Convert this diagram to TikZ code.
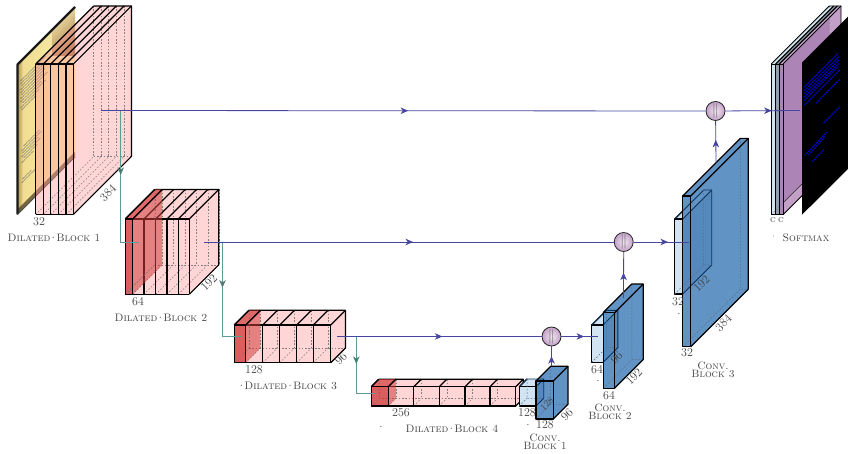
\documentclass[tikz,border=0pt]{standalone}
\usetikzlibrary{arrows.meta,decorations.markings}
\definecolor{pinkf}{RGB}{255,150,150}
\definecolor{redf}{RGB}{210,60,60}
\definecolor{lightb}{RGB}{210,228,242}
\definecolor{darkb}{RGB}{97,147,196}
\definecolor{overb}{RGB}{55,110,170}
\definecolor{navy}{RGB}{10,50,90}
\definecolor{linkb}{RGB}{70,70,160}
\definecolor{linkt}{RGB}{95,155,150}
\definecolor{txt}{RGB}{65,65,65}
\definecolor{purpA}{RGB}{196,160,200}
\definecolor{purpB}{RGB}{172,132,182}
\tikzset{
  boxedge/.style={draw=black,line width=1.2pt,line join=round},
  hid/.style={draw=black!50,line width=.5pt,dash pattern=on 1.6pt off 1.7pt},
  num/.style={text=txt,inner sep=0pt,font=\fontsize{12}{12}\selectfont},
  numr/.style={num,rotate=45},
  captwo/.style={text=txt,inner sep=0pt,align=center,font=\fontsize{10.6}{8.2}\selectfont\scshape},
  capone/.style={captwo,font=\fontsize{10.8}{9}\selectfont\scshape},
  tinyc/.style={num,font=\fontsize{9.5}{9}\selectfont\scshape},
  bluel/.style={draw=linkb,line width=.8pt},
  teall/.style={draw=linkt,line width=.9pt},
  tipb/.style={postaction={decorate,decoration={markings,mark=at position #1 with {\arrow[linkb]{Stealth[length=7.5pt,width=6.5pt,inset=2.2pt]}}}}},
  tipt/.style={postaction={decorate,decoration={markings,mark=at position #1 with {\arrow[linkt!80!black]{Stealth[length=7.5pt,width=6.5pt,inset=2.2pt]}}}}},
  merge/.style={circle,draw=black!85,line width=.8pt,minimum size=19pt,inner sep=0pt,text=black!60,
     inner color=purpA!25,outer color=purpA,font=\fontsize{14}{14}\selectfont},
  inkline/.style={draw=blue!90!black,line width=.7pt},
  scrib/.style={draw=black!60,line width=.4pt,dash pattern=on 1.6pt off .5pt on .9pt off .5pt},
}
\newcommand{\dd}{\kern-1.6pt·\kern-1.6pt}
% pink stack: #1 list of x boundaries, #2 x first, #3 x last, #4 top, #5 height, #6 depth
\newcommand{\stackbox}[6]{%
  \fill[pinkf,fill opacity=.4] (#2,#4) -- (#2+#6,#4-#6) -- (#3+#6,#4-#6) -- (#3+#6,#4+#5-#6) -- (#3,#4+#5) -- (#2,#4+#5) -- cycle;
  \foreach \xx in {#1}{\draw[hid] (\xx+#6,#4-#6) -- (\xx+#6,#4+#5-#6);
     \draw[hid] (\xx,#4+#5) -- (\xx+#6,#4+#5-#6);}
  \draw[hid] (#2+#6,#4+#5-#6) -- (#3+#6,#4+#5-#6);
  \foreach \xx in {#1}{\draw[boxedge] (\xx,#4) -- (\xx,#4+#5); \draw[boxedge] (\xx,#4) -- (\xx+#6,#4-#6);}
  \draw[boxedge] (#2,#4) -- (#3,#4) (#2,#4+#5) -- (#3,#4+#5);
  \draw[boxedge] (#2+#6,#4-#6) -- (#3+#6,#4-#6) -- (#3+#6,#4+#5-#6) -- (#3,#4+#5);
}
% red cube: x, w, top, height, depth
\newcommand{\redcube}[5]{%
  \fill[redf,fill opacity=.55] (#1,#3) rectangle (#1+#2,#3+#4);
  \fill[redf,fill opacity=.5] (#1,#3) rectangle (#1+#2,#3+#4);
  \fill[redf,fill opacity=.7] (#1,#3) -- (#1+#2,#3) -- (#1+#2+#5,#3-#5) -- (#1+#5,#3-#5) -- cycle;
  \fill[redf,fill opacity=.55] (#1+#2,#3) -- (#1+#2+#5,#3-#5) -- (#1+#2+#5,#3+#4-#5) -- (#1+#2,#3+#4) -- cycle;
  \draw[hid] (#1,#3+#4) -- (#1+#5,#3+#4-#5) (#1+#5,#3-#5) -- (#1+#5,#3+#4-#5);
  \draw[boxedge] (#1,#3) rectangle (#1+#2,#3+#4);
  \draw[boxedge] (#1,#3) -- (#1+#5,#3-#5) (#1+#2,#3) -- (#1+#2+#5,#3-#5);
}
% light then dark conv pair. light: x,w,top,h,d  dark: w,top,h,d  (dark x = light x + w)
\newcommand{\convpair}[9]{%
  \fill[lightb] (#1,#3) rectangle (#1+#2,#3+#4);
  \fill[lightb] (#1,#3) -- (#1+#2,#3) -- (#1+#2+#5,#3-#5) -- (#1+#5,#3-#5) -- cycle;
  \draw[boxedge] (#1,#3) rectangle (#1+#2,#3+#4);
  \draw[boxedge] (#1,#3) -- (#1+#5,#3-#5);
  \fill[darkb] (#1+#2,#7) rectangle (#1+#2+#6,#7+#8);
  \fill[darkb] (#1+#2,#7) -- (#1+#2+#6,#7) -- (#1+#2+#6+#9,#7-#9) -- (#1+#2+#9,#7-#9) -- cycle;
  \fill[darkb] (#1+#2+#6,#7) -- (#1+#2+#6+#9,#7-#9) -- (#1+#2+#6+#9,#7+#8-#9) -- (#1+#2+#6,#7+#8) -- cycle;
  \fill[overb,fill opacity=.28] (#1+#2,#3) -- (#1+#2+#5,#3-#5) -- (#1+#2+#5,#3+#4-#5) -- (#1+#2,#3+#4) -- cycle;
  \draw[navy,line width=.9pt] (#1,#3) -- (#1+#5,#3-#5) -- (#1+#2+#5,#3-#5) -- (#1+#2+#5,#3+#4-#5) -- (#1+#2,#3+#4);
  \draw[navy,line width=.9pt] (#1+#2,#3) -- (#1+#2+#5,#3-#5);
  \draw[hid,draw=navy!70] (#1+#5,#3-#5) -- (#1+#5,#3+#4-#5) -- (#1+#2+#5,#3+#4-#5) (#1,#3+#4) -- (#1+#5,#3+#4-#5);
  \draw[hid,draw=navy!70] (#1+#2+#9,#7-#9) -- (#1+#2+#9,#7+#8-#9) -- (#1+#2+#6+#9,#7+#8-#9) (#1+#2,#7+#8) -- (#1+#2+#9,#7+#8-#9);
  \draw[boxedge] (#1+#2,#7) rectangle (#1+#2+#6,#7+#8);
  \draw[boxedge] (#1+#2,#7) -- (#1+#2+#9,#7-#9) -- (#1+#2+#6+#9,#7-#9) -- (#1+#2+#6+#9,#7+#8-#9) -- (#1+#2+#6,#7+#8);
  \draw[boxedge] (#1+#2+#6,#7) -- (#1+#2+#6+#9,#7-#9);
}
\begin{document}
\begin{tikzpicture}[x=1pt,y=-1pt]
\useasboundingbox (0,0) rectangle (848,454);
\clip (0,0) rectangle (848,454);

% ---------- input page
\begin{scope}
  \clip (17.5,64.5) -- (75,7) -- (75,157) -- (17.5,214.5) -- cycle;
  \shade[left color={rgb,255:red,240;green,220;blue,140},right color={rgb,255:red,248;green,236;blue,178}] (17,6) rectangle (76,215);
  \shade[left color={rgb,255:red,248;green,236;blue,178},right color={rgb,255:red,150;green,95;blue,50},shading angle=45,opacity=.8] (52,6) rectangle (76,56);
  \shade[left color={rgb,255:red,120;green,90;blue,40},right color={rgb,255:red,240;green,220;blue,140},opacity=.6] (17,60) rectangle (23,215);
  \foreach \v/\a/\b in {20/3/28,23/3/25,26/4/29,29/3/27,32/3/28,35/4/26,38/3/30,41/3/24,44/5/28,47/3/22,50/4/18,88/6/22,91/4/24,94/5/21,97/4/23,100/6/20,103/4/16,120/5/14,123/4/18}{
    \draw[scrib] (17.5+\a,64-\a+\v) -- (17.5+\b,64-\b+\v);
  }
  \fill[black!80!brown,opacity=.6] (17.5,209.5) -- (75,152) -- (75,157) -- (17.5,215) -- cycle;
\end{scope}
\draw[black!90,line width=2.2pt,line join=round] (17.5,214.5) -- (17.5,64.5) -- (75,7);
\draw[black!70,line width=1pt] (17.5,214.5) -- (75,157);

% ---------- block 1
\stackbox{35.7,43.3,50.7,58.3,66,73.4}{35.7}{73.4}{64}{150.5}{58}
\coordinate (b1out) at (101,110.5);
\coordinate (b1down) at (120.7,110.5);
\node[num] (n32a) at (39,222) {32};
\node[numr] (n384a) at (108,193) {384};
\node[capone] (capa) at (54,238) {Dilated\dd Block 1};

% ---------- block 2
\stackbox{125.3,132.7,144,155.7,167,178.3,189.3}{125.3}{189.3}{219}{75.3}{29.5}
\redcube{125.3}{7.4}{219}{75.3}{29.5}
\coordinate (b2in) at (139,242);
\coordinate (b2out) at (204,242);
\coordinate (b2down) at (222.5,242);
\node[num] (n64a) at (138,301.5) {64};
\node[numr] (n192a) at (209,283) {192};
\node[capone] (capb) at (161,317.5) {Dilated\dd Block 2};

% ---------- block 3
\stackbox{234.3,245.7,262.7,279.7,296.7,313.3,330.7}{234.3}{330.7}{325}{37.7}{14.7}
\redcube{234.3}{11.4}{325}{37.7}{14.7}
\coordinate (b3in) at (242,336.5);
\coordinate (b3out) at (337,336.5);
\coordinate (b3down) at (356.3,336.5);
\node[num] (n128a) at (254,369.5) {128};
\node[numr] (n96a) at (341,359) {96};
\node[capone] (capc) at (287,386) {·\kern-1.6pt Dilated\dd Block 3};

% ---------- block 4
\stackbox{371.3,388.3,413.7,439.3,465,490,515.7}{371.3}{515.7}{386.7}{19.3}{7.5}
\redcube{371.3}{17}{386.7}{19.3}{7.5}
\coordinate (b4in) at (376,393);
\node[num] (n256) at (401,413) {256};
\node[num] (dota) at (381,427) {.};
\node[capone] (capd) at (452,429) {Dilated\dd Block 4};

% ---------- conv blocks
\convpair{519.3}{16.7}{386.7}{19.3}{7.7}{17.3}{381}{38}{14.7}
\coordinate (c1up) at (551.5,366);
\node[num] (n128b) at (527,412.5) {128};
\node[num] (dotb) at (528,425) {.};
\node[num] (n128c) at (545,425) {128};
\node[numr] (n96b) at (567,415) {96};
\node[numr,font=\fontsize{9.5}{9.5}\selectfont] (n128d) at (547,404) {128};
\node[captwo] (cape) at (545,441.5) {Conv.\\Block 1};

\convpair{591.7}{11.4}{325}{37.3}{14.7}{11.4}{312.7}{75.6}{28.7}
\coordinate (c2in) at (598,336.5);
\coordinate (c2up) at (623.5,298);
\node[num] (n64b) at (597,370) {64};
\node[num] (dotc) at (598,381) {.};
\node[num] (n64c) at (609,396) {64};
\node[numr] (n96c) at (616.5,358) {96};
\node[numr] (n192b) at (634,377) {192};
\node[captwo] (capf) at (610,412) {Conv.\\Block 2};

\convpair{674.7}{8}{219}{75}{29}{8}{196}{150.7}{57.6}
\coordinate (c3in) at (689,242);
\coordinate (c3up) at (716,163);
\node[num] (n32b) at (678,302) {32};
\node[num] (dotd) at (679,314) {.};
\node[numr] (n192c) at (701.5,283.5) {192};
\node[num] (n32c) at (687,353) {32};
\node[numr] (n384b) at (723.5,323) {384};
\node[captwo] (capg) at (713,370) {Conv.\\Block 3};

% ---------- softmax stack
\fill[purpA] (783,64) -- (841,6) -- (841,157) -- (783,214.7) -- cycle;
\fill[purpA] (779.3,64) -- (783,64) -- (841,6) -- (837.3,6) -- cycle;
\fill[purpB] (783,64) -- (829.3,17.7) -- (829.3,156.7) -- (783,203) -- cycle;
\fill[lightb] (771.3,64) rectangle (775.7,214.7);
\fill[lightb] (771.3,64) -- (775.7,64) -- (833.7,6) -- (829.3,6) -- cycle;
\fill[lightb!70!black] (776,64) rectangle (779.3,214.7);
\fill[lightb!70!black] (776,64) -- (779.3,64) -- (837.3,6) -- (834,6) -- cycle;
\fill[purpB] (779.3,64) rectangle (783,214.7);
\draw[hid] (829.3,6) -- (829.3,157) (771.3,214.7) -- (829.3,156.7);
\draw[black!80,line width=.6pt] (783,203) -- (829.3,156.7);
\foreach \xa/\xb in {771.3/775.7,775.7/779.3,779.3/783}{
  \draw[boxedge,line width=.95pt] (\xa,64) rectangle (\xb,214.7);
  \draw[boxedge,line width=.95pt] (\xa,64) -- (\xa+58,6) -- (\xb+58,6);
  \draw[boxedge,line width=.95pt] (\xb,64) -- (\xb+58,6);
}
\draw[boxedge,line width=.95pt] (841,6) -- (841,157) -- (783,214.7);
\fill[black] (802,62.7) -- (862,2.7) -- (862,155) -- (802,214.7) -- cycle;
\foreach \ax/\ay/\bx/\by in {
  804/87.3/838/53.3, 804/90.7/839/56.7, 804/94/839/60, 804/97.3/839/63.3, 804/100.7/838/66.7, 804/105.7/840/69.7,
  816/103.3/840/79, 823.3/123.3/840/106.7, 805/155/826.7/132.3, 808.3/155/825/136.7, 812.3/161.7/824.3/149}{
  \draw[inkline] (\ax,\ay) -- (\bx,\by);
}
\coordinate (smin) at (800,110.5);
\node[tinyc] (cca) at (773,220) {c};
\node[tinyc] (ccb) at (781,220) {c};
\node[num,font=\fontsize{9}{9}\selectfont] (dote) at (773.5,238) {·};
\node[capone] (caph) at (806,238) {Softmax};

% ---------- merges and links
\node[merge] (m1) at (551.5,336.5) {$\parallel$};
\node[merge] (m2) at (623.7,242) {$\parallel$};
\node[merge] (m3) at (715.5,111) {$\parallel$};

\draw[teall,tipt=.43] (b1down) |- (b2in);
\draw[teall,tipt=.40] (b2down) |- (b3in);
\draw[teall,tipt=.36] (b3down) |- (b4in);
\draw[bluel,tipb=.508] (b1out) -- (m3);
\draw[bluel,tipb=.51] (b2out) -- (m2);
\draw[bluel,tipb=.515] (b3out) -- (m1);
\draw[bluel,tipb=.62] (m1) -- (c2in);
\draw[bluel,tipb=.62] (m2) -- (c3in);
\draw[bluel,tipb=.62] (m3) -- (smin);
\draw[bluel,tipb=.5] (c1up) -- (m1);
\draw[bluel,tipb=.55] (c2up) -- (m2);
\draw[bluel,tipb=.55] (c3up) -- (m3);
\end{tikzpicture}
\end{document}
